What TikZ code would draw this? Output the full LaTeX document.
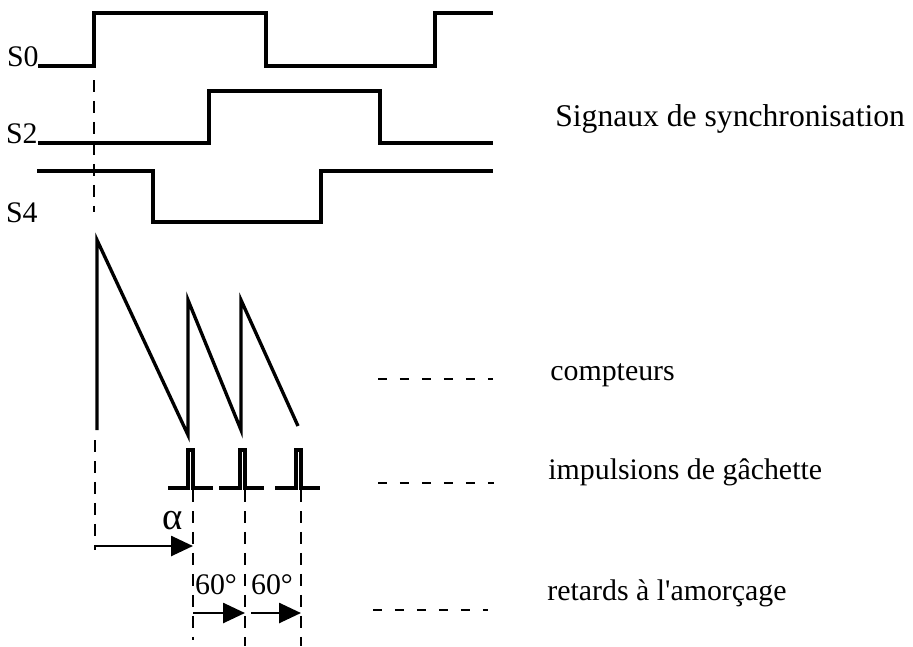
\documentclass[tikz,border=0pt]{standalone}
\usepackage{fontspec}
\setmainfont{Liberation Serif}
\usetikzlibrary{arrows.meta, positioning}
\tikzset{
  sig/.style={line width=1.9pt, line join=miter},
  guide/.style={line width=1.5pt, dash pattern=on 0.24cm off 0.18cm},
  legdash/.style={line width=1.5pt, dash pattern=on 0.18cm off 0.26cm},
  delay/.style={-{Triangle[length=0.44cm, width=0.4cm]}, line width=1.5pt},
  lbl/.style={font=\fontsize{17}{20}\selectfont, inner sep=0pt}
}

\begin{document}
\begin{tikzpicture}[x=0.02cm, y=-0.02cm]
\useasboundingbox (0,0) rectangle (913,646);
% signaux de synchronisation
\draw[sig] (38,66) -- (94,66) -- (94,13) -- (266,13) -- (266,66) -- (435,66) -- (435,13) -- (493,13);
\draw[sig] (38,143) -- (209,143) -- (209,91) -- (380,91) -- (380,143) -- (493,143);
\draw[sig] (37,171) -- (153,171) -- (153,222) -- (321,222) -- (321,171) -- (493,171);
\node[lbl, anchor=base east] (s0) at (39,66) {S0};
\node[lbl, anchor=base east] (s2) at (38,143) {S2};
\node[lbl, anchor=base east] (s4) at (38,222) {S4};
\draw[guide] (94,80) -- (94,212);
% compteurs
\draw[sig] (97,430) -- (97,240) -- (188,435) -- (188,300) -- (241,430) -- (241,300) -- (298,426);
% impulsions
\foreach \a/\b/\c in {168/188/213, 219/240/264, 275/296/320}
  \draw[sig] (\a,488) -- (\b,488) -- (\b,450) -- (\b+5,450) -- (\b+5,488) -- (\c,488);
\draw[guide] (95,440) -- (95,550);
\draw[guide] (193,490) -- (193,640);
\draw[guide] (245,490) -- (245,646);
\draw[guide] (301,490) -- (301,646);
% retards
\coordinate (a0) at (95,546);
\coordinate (a1) at (193,546);
\coordinate (d0) at (193,613);
\coordinate (d1) at (245,613);
\coordinate (d2) at (251,613);
\coordinate (d3) at (301,613);
\draw[delay] (a0) -- (a1);
\draw[delay] (d0) -- (d1);
\draw[delay] (d2) -- (d3);
\node[lbl, font=\fontsize{22}{24}\selectfont] (alpha) at (173,521) {α};
\node[lbl] (r1) at (216,585) {60°};
\node[lbl] (r2) at (272,585) {60°};
% legende
\draw[legdash] (378,379) -- (493,379);
\draw[legdash] (378,483) -- (494,483);
\draw[legdash] (373,610) -- (488,610);
\node[lbl, font=\fontsize{18}{20}\selectfont, anchor=base west] (sync) at (555,126) {Signaux de synchronisation};
\node[lbl, anchor=base west] (cpt) at (550,380) {compteurs};
\node[lbl, anchor=base west] (imp) at (548,479) {impulsions de gâchette};
\node[lbl, anchor=base west] (ret) at (547,600) {retards à l\textquotesingle amorçage};
\end{tikzpicture}
\end{document}
